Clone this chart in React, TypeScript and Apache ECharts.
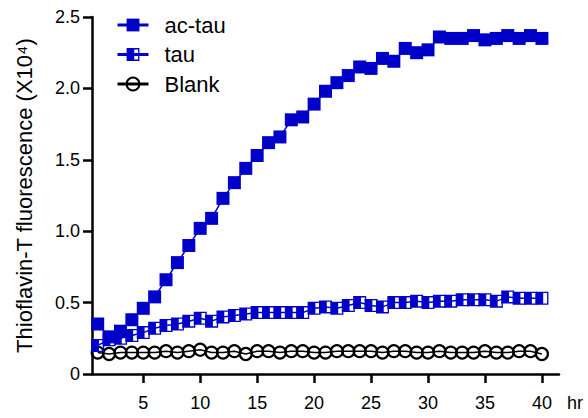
import React, { useEffect, useRef } from "react";
import * as echarts from "echarts";

// Incubation time (hr)
const hours: number[] = Array.from({ length: 40 }, (_, i) => i + 1);

// Thioflavin-T fluorescence (x10^4)
const acTau: number[] = [
  0.35, 0.26, 0.30, 0.38, 0.46, 0.54, 0.66, 0.78, 0.90, 1.02,
  1.09, 1.23, 1.34, 1.44, 1.53, 1.62, 1.66, 1.78, 1.80, 1.89,
  1.98, 2.04, 2.09, 2.15, 2.14, 2.21, 2.19, 2.28, 2.25, 2.27,
  2.36, 2.35, 2.35, 2.37, 2.34, 2.35, 2.37, 2.35, 2.37, 2.35,
];
const tau: number[] = [
  0.20, 0.24, 0.25, 0.27, 0.29, 0.32, 0.34, 0.35, 0.37, 0.39,
  0.37, 0.40, 0.41, 0.42, 0.43, 0.43, 0.43, 0.43, 0.43, 0.46,
  0.47, 0.46, 0.48, 0.50, 0.48, 0.47, 0.50, 0.50, 0.51, 0.50,
  0.51, 0.51, 0.52, 0.52, 0.52, 0.51, 0.54, 0.53, 0.53, 0.53,
];
const blank: number[] = [
  0.15, 0.14, 0.15, 0.15, 0.15, 0.15, 0.16, 0.15, 0.16, 0.17,
  0.15, 0.15, 0.16, 0.14, 0.16, 0.16, 0.15, 0.16, 0.16, 0.15,
  0.15, 0.16, 0.16, 0.16, 0.16, 0.15, 0.16, 0.16, 0.15, 0.15,
  0.16, 0.15, 0.15, 0.15, 0.16, 0.15, 0.15, 0.16, 0.16, 0.14,
];

const xTicks: number[] = [5, 10, 15, 20, 25, 30, 35, 40];
const seriesNames: string[] = ["ac-tau", "tau", "Blank"];

const BLUE = "#0000c8";
const FONT = "'Liberation Sans', Arial, Helvetica, sans-serif";

// half-filled square: solid left half, hollow right half
const HALF_SQUARE = "path://M0 0H5V10H0Z M5 0H10V10H5Z M6 1V9H9V1Z";

const pairs = (ys: number[]) => hours.map((h, i) => [h, ys[i]]);

export default function App() {
  const ref = useRef<HTMLDivElement>(null);

  useEffect(() => {
    if (!ref.current) return;
    const chart = echarts.init(ref.current, null, { renderer: "svg" });
    chart.setOption({
      animation: false,
      backgroundColor: "#fff",
      textStyle: { fontFamily: FONT, color: "#000" },
      grid: { left: 92, right: 29, top: 17, bottom: 44, outerBoundsMode: "none" },
      legend: {
        data: seriesNames,
        orient: "vertical",
        left: 111,
        top: 9,
        itemWidth: 31,
        itemHeight: 16,
        itemGap: 7.5,
        lineStyle: { width: 3 },
        textStyle: { fontSize: 22, color: "#000", fontFamily: FONT, padding: [0, 0, 0, 11] },
      },
      xAxis: {
        type: "value",
        min: 0.5,
        max: 41.5,
        name: "hr",
        nameLocation: "end",
        nameGap: 8,
        nameTextStyle: { fontSize: 18, color: "#000", verticalAlign: "top", padding: [20, 0, 0, 0] },
        axisLine: { onZero: false, lineStyle: { color: "#000", width: 2.5 } },
        axisTick: { customValues: xTicks, length: 9, lineStyle: { color: "#000", width: 2.5 } },
        axisLabel: { customValues: xTicks, fontSize: 18, color: "#000", margin: 20 },
        splitLine: { show: false },
      },
      yAxis: {
        type: "value",
        min: 0,
        max: 2.5,
        interval: 0.5,
        name: "Thioflavin-T fluorescence (X10⁴)",
        nameLocation: "middle",
        nameGap: 57,
        nameTextStyle: { fontSize: 22, color: "#000" },
        axisLine: { show: true, lineStyle: { color: "#000", width: 2.5 } },
        axisTick: { show: true, length: 9, lineStyle: { color: "#000", width: 2.5 } },
        axisLabel: {
          fontSize: 18,
          color: "#000",
          margin: 12,
          formatter: (v: number) => (v === 0 ? "0" : v.toFixed(1)),
        },
        splitLine: { show: false },
      },
      series: [
        {
          name: "Blank",
          type: "line",
          data: pairs(blank),
          symbol: "circle",
          symbolSize: 12,
          itemStyle: { color: "rgba(0,0,0,0)", borderColor: "#000", borderWidth: 2.2 },
          lineStyle: { color: "#000", width: 1.5 },
          z: 2,
        },
        {
          name: "tau",
          type: "line",
          data: pairs(tau),
          symbol: HALF_SQUARE,
          symbolSize: 13,
          itemStyle: { color: BLUE },
          lineStyle: { color: BLUE, width: 1.5 },
          z: 3,
        },
        {
          name: "ac-tau",
          type: "line",
          data: pairs(acTau),
          symbol: "rect",
          symbolSize: 13,
          itemStyle: { color: BLUE },
          lineStyle: { color: BLUE, width: 1.5 },
          z: 4,
        },
      ],
    });
    return () => chart.dispose();
  }, []);

  return (
    <div
      ref={ref}
      style={{ position: "fixed", left: 0, top: 0, width: 588, height: 418 }}
    />
  );
}
